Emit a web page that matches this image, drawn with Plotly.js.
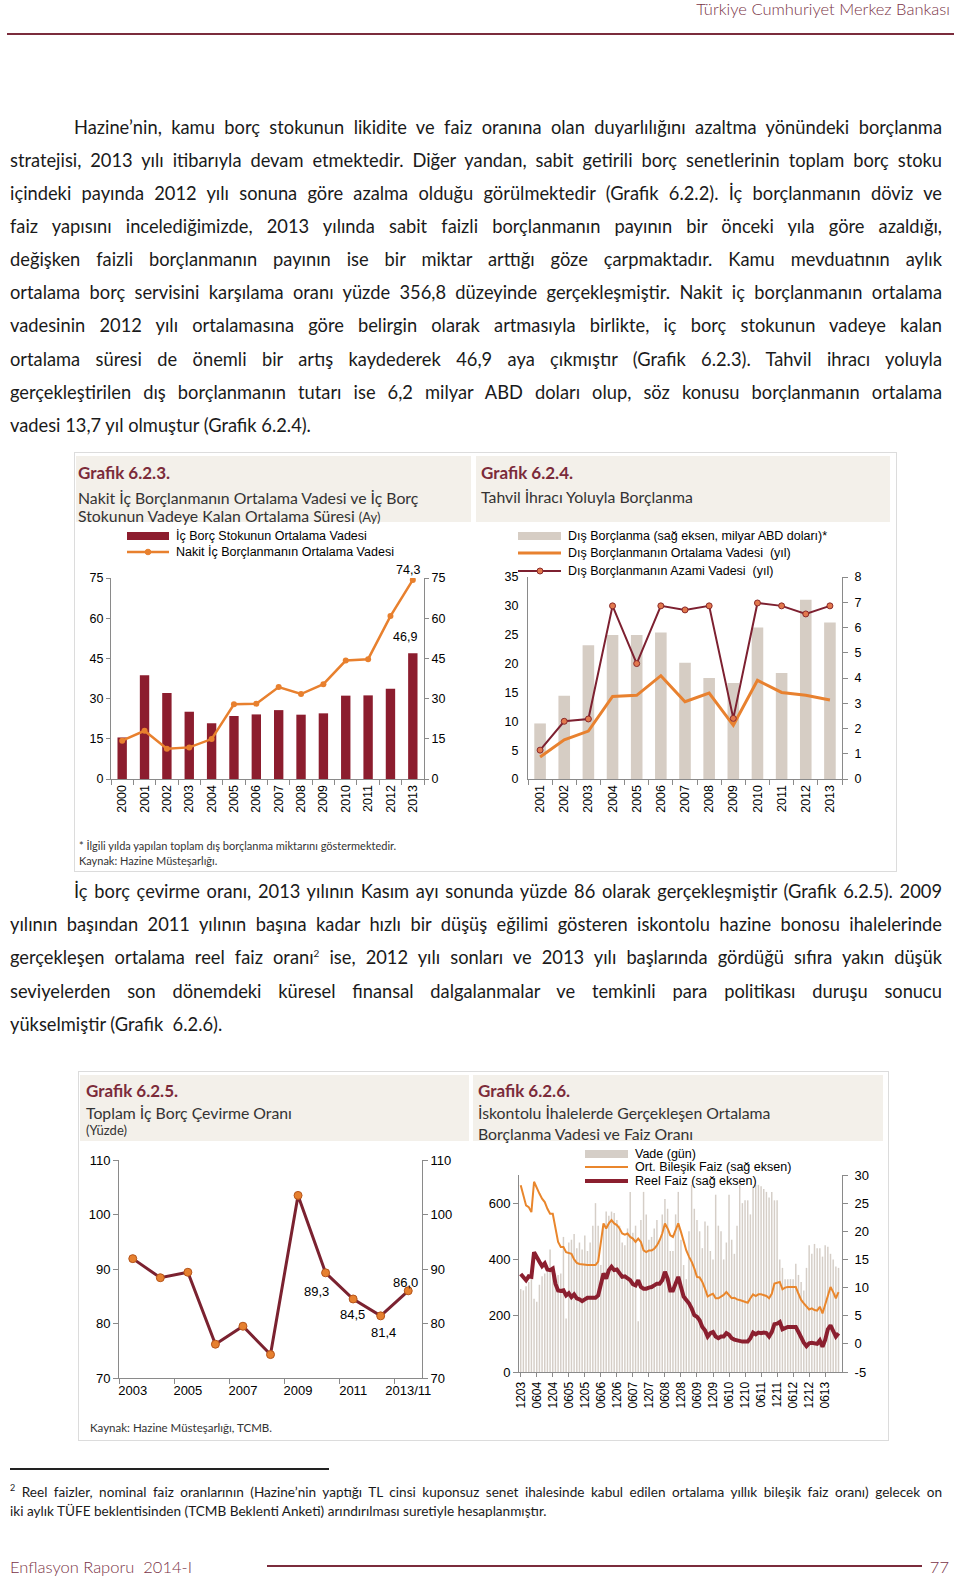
<!DOCTYPE html>
<html><head><meta charset="utf-8">
<script src="https://cdn.plot.ly/plotly-3.0.1.min.js"></script>
<style>
body{margin:0;background:#fff;}
#page{position:relative;width:960px;height:1579px;overflow:hidden;font-family:Lato,'Open Sans',sans-serif;color:#1a1a1a;}
.a{position:absolute;white-space:nowrap;}
.para{position:absolute;left:10px;width:932px;font-size:18.3px;}
.para div{white-space:nowrap;text-align:justify;text-align-last:justify;}
.para div.last{text-align-last:left;}
.para div.ind{padding-left:64px;}
.beige{position:absolute;background:#f3f0ea;}
.gt{position:absolute;font-weight:bold;color:#7b2b3a;font-size:17px;line-height:20px;white-space:nowrap;}
.st{position:absolute;color:#333;font-size:15.8px;line-height:19px;white-space:nowrap;}
.plot{position:absolute;}
</style></head>
<body><div id="page">
<div class="a" style="right:10px;top:1px;line-height:17px;font-size:16.5px;color:#7a3346;font-weight:300;">Türkiye Cumhuriyet Merkez Bankası</div>
<div class="a" style="left:7px;top:33px;width:947px;height:2px;background:#7b2c3c;"></div>

<div class="para" style="top:110.5px;line-height:33.15px;">
<div class="ind">Hazine’nin, kamu borç stokunun likidite ve faiz oranına olan duyarlılığını azaltma yönündeki borçlanma</div>
<div>stratejisi, 2013 yılı itibarıyla devam etmektedir. Diğer yandan, sabit getirili borç senetlerinin toplam borç stoku</div>
<div>içindeki payında 2012 yılı sonuna göre azalma olduğu görülmektedir (Grafik 6.2.2). İç borçlanmanın döviz ve</div>
<div>faiz yapısını incelediğimizde, 2013 yılında sabit faizli borçlanmanın payının bir önceki yıla göre azaldığı,</div>
<div>değişken faizli borçlanmanın payının ise bir miktar arttığı göze çarpmaktadır. Kamu mevduatının aylık</div>
<div>ortalama borç servisini karşılama oranı yüzde 356,8 düzeyinde gerçekleşmiştir. Nakit iç borçlanmanın ortalama</div>
<div>vadesinin 2012 yılı ortalamasına göre belirgin olarak artmasıyla birlikte, iç borç stokunun vadeye kalan</div>
<div>ortalama süresi de önemli bir artış kaydederek 46,9 aya çıkmıştır (Grafik 6.2.3). Tahvil ihracı yoluyla</div>
<div>gerçekleştirilen dış borçlanmanın tutarı ise 6,2 milyar ABD doları olup, söz konusu borçlanmanın ortalama</div>
<div class="last">vadesi 13,7 yıl olmuştur (Grafik 6.2.4).</div>
</div>

<div class="a" style="left:74px;top:452px;width:821px;height:418px;border:1px solid #dcdcdc;"></div>
<div class="beige" style="left:76px;top:456px;width:395px;height:66px;"></div>
<div class="beige" style="left:476px;top:456px;width:414px;height:66px;"></div>
<div class="gt" style="left:78px;top:463px;">Grafik 6.2.3.</div>
<div class="st" style="left:78px;top:487.5px;">Nakit İç Borçlanmanın Ortalama Vadesi ve İç Borç</div>
<div class="st" style="left:78px;top:505.5px;">Stokunun Vadeye Kalan Ortalama Süresi <span style="font-size:13px">(Ay)</span></div>
<div class="gt" style="left:481px;top:463px;">Grafik 6.2.4.</div>
<div class="st" style="left:481px;top:486.5px;">Tahvil İhracı Yoluyla Borçlanma</div>
<div id="chA" class="plot" style="left:75px;top:455px;"></div>
<div id="chB" class="plot" style="left:473px;top:455px;"></div>
<div class="a" style="left:79px;top:839px;font-size:11px;line-height:14px;color:#333;">* İlgili yılda yapılan toplam dış borçlanma miktarını göstermektedir.</div>
<div class="a" style="left:79px;top:854px;font-size:11px;line-height:14px;color:#333;">Kaynak: Hazine Müsteşarlığı.</div>

<div class="para" style="top:874.9px;line-height:33.2px;">
<div class="ind">İç borç çevirme oranı, 2013 yılının Kasım ayı sonunda yüzde 86 olarak gerçekleşmiştir (Grafik 6.2.5). 2009</div>
<div>yılının başından 2011 yılının başına kadar hızlı bir düşüş eğilimi gösteren iskontolu hazine bonosu ihalelerinde</div>
<div>gerçekleşen ortalama reel faiz oranı<sup style="font-size:10px;line-height:0">2</sup> ise, 2012 yılı sonları ve 2013 yılı başlarında gördüğü sıfıra yakın düşük</div>
<div>seviyelerden son dönemdeki küresel finansal dalgalanmalar ve temkinli para politikası duruşu sonucu</div>
<div class="last">yükselmiştir (Grafik&nbsp; 6.2.6).</div>
</div>

<div class="a" style="left:78px;top:1071px;width:809px;height:368px;border:1px solid #dcdcdc;"></div>
<div class="beige" style="left:80px;top:1075px;width:389px;height:66px;"></div>
<div class="beige" style="left:473px;top:1075px;width:410px;height:66px;"></div>
<div class="gt" style="left:86px;top:1081px;">Grafik 6.2.5.</div>
<div class="st" style="left:86px;top:1102.5px;">Toplam İç Borç Çevirme Oranı</div>
<div class="st" style="left:86px;top:1121px;font-size:13px;">(Yüzde)</div>
<div class="gt" style="left:478px;top:1081px;">Grafik 6.2.6.</div>
<div class="st" style="left:478px;top:1102.5px;">İskontolu İhalelerde Gerçekleşen Ortalama</div>
<div class="st" style="left:478px;top:1123.5px;">Borçlanma Vadesi ve Faiz Oranı</div>
<div id="chC" class="plot" style="left:79px;top:1071px;"></div>
<div id="chD" class="plot" style="left:473px;top:1071px;"></div>
<div class="a" style="left:90px;top:1421px;font-size:11.5px;line-height:14px;color:#333;">Kaynak: Hazine Müsteşarlığı, TCMB.</div>

<div class="a" style="left:10px;top:1468px;width:319px;height:1.5px;background:#222;"></div>
<div class="para" style="top:1483.3px;line-height:19.1px;font-size:13.6px;">
<div><sup style="font-size:9px;line-height:0">2</sup> Reel faizler, nominal faiz oranlarının (Hazine’nin yaptığı TL cinsi kuponsuz senet ihalesinde kabul edilen ortalama yıllık bileşik faiz oranı) gelecek on</div>
<div class="last">iki aylık TÜFE beklentisinden (TCMB Beklenti Anketi) arındırılması suretiyle hesaplanmıştır.</div>
</div>

<div class="a" style="left:10px;top:1558px;font-size:16.5px;line-height:18px;color:#7a3346;font-weight:300;">Enflasyon Raporu&nbsp; 2014-I</div>
<div class="a" style="left:267px;top:1565px;width:655px;height:1.5px;background:#7b2c3c;"></div>
<div class="a" style="right:11px;top:1558px;font-size:16.5px;line-height:18px;color:#7a3346;font-weight:300;">77</div>
</div>

<script>
// ---------- DATA ----------
// Grafik 6.2.3
const yearsA = ['2000','2001','2002','2003','2004','2005','2006','2007','2008','2009','2010','2011','2012','2013'];
const icBorcStokVade = [15.5,38.7,32.1,25.1,20.8,23.5,24.1,25.7,24.0,24.5,31.1,31.2,33.7,46.9];
const nakitBorcVade = [14.3,18.0,11.3,11.8,14.9,27.9,28.1,34.3,31.7,35.4,44.2,44.7,60.8,74.3];

// Grafik 6.2.4
const yearsB = ['2001','2002','2003','2004','2005','2006','2007','2008','2009','2010','2011','2012','2013'];
const disBorclanma = [2.2,3.3,5.3,5.7,5.7,5.8,4.6,4.0,3.8,6.0,4.2,7.1,6.2];
const disOrtVade = [3.8,6.8,8.3,14.3,14.5,17.9,13.4,14.9,9.3,17.1,15.0,14.5,13.7];
const disAzamiVade = [5,10,10.4,30,20,30,29.3,30,10.5,30.5,30,28.6,30];

// Grafik 6.2.5
const yearsC = ['2003','2004','2005','2006','2007','2008','2009','2010','2011','2012','2013/11'];
const cevirmeOrani = [91.9,88.4,89.4,76.2,79.5,74.3,103.5,89.3,84.5,81.4,86.0];
const tickLabelsC = ['2003','2005','2007','2009','2011','2013/11'];

// Grafik 6.2.6 (monthly, 12/2003 - 11/2013)
const tickLabelsD = ['1203','0604','1204','0605','1205','0606','1206','0607','1207','0608','1208','0609','1209','0610','1210','0611','1211','0612','1212','0613'];
const rightTicksD = [-5,0,5,10,15,20,25,30];
const vadeGun = [295,290,305,320,330,260,250,310,340,350,
 365,435,360,350,345,350,480,190,460,470,
 490,440,460,435,485,430,460,520,600,520,
 380,520,570,555,570,565,540,520,460,450,
 510,640,495,520,180,540,640,560,470,480,
 510,540,470,560,615,580,430,430,560,640,
 470,380,330,500,665,580,540,500,440,535,
 520,430,400,630,520,500,400,460,630,470,
 420,520,665,600,610,610,560,660,665,665,
 660,650,640,620,640,610,610,400,370,330,
 330,330,330,385,345,320,290,370,450,420,
 455,440,440,410,450,445,420,400,375,370];
const ortBilesikFaiz = [28.2,26.4,24.6,24.3,23.4,28.8,27.6,26.7,25.8,25.2,
 24.0,23.1,23.1,20.5,18.1,17.2,17.2,16.3,16.1,16.0,
 15.0,14.4,14.2,14.1,14.1,14.0,14.0,14.0,14.0,14.6,
 18.4,21.4,20.5,21.4,22.0,21.4,21.1,20.5,19.6,19.4,
 19.6,19.0,18.7,18.1,18.7,18.1,16.6,16.3,16.6,16.6,
 16.9,17.5,18.4,19.6,21.4,20.5,19.3,19.0,20.2,21.4,
 19.9,18.1,16.6,15.5,14.6,13.4,11.9,11.8,11.0,9.8,
 8.4,8.7,8.9,8.1,8.1,8.4,8.7,9.2,8.7,8.1,
 8.2,7.9,7.8,7.6,7.5,7.3,8.1,8.8,8.5,8.8,
 8.8,8.7,8.5,8.1,8.9,10.7,10.8,11.0,9.7,10.0,
 10.1,10.1,10.1,10.1,8.9,7.8,7.2,6.6,6.1,6.3,
 6.0,5.9,6.6,5.4,6.9,8.7,10.1,9.2,8.1,9.2];
const reelFaiz = [12.4,11.8,11.3,12.0,11.9,16.3,15.3,14.6,13.8,14.3,
 13.2,13.1,13.4,10.7,9.5,9.4,9.5,8.6,9.0,8.3,
 8.8,8.1,7.9,7.6,7.9,8.2,8.2,8.2,8.2,8.6,
 11.0,12.5,11.6,13.1,13.7,13.1,13.2,12.5,11.9,12.0,
 11.7,11.3,10.6,10.4,11.3,10.1,9.8,9.8,10.0,10.1,
 10.4,10.7,10.7,11.3,12.8,11.6,9.5,9.5,10.7,11.9,
 10.1,8.4,7.8,7.2,6.3,5.1,4.8,4.2,3.0,2.4,
 1.3,1.9,2.1,1.3,1.0,1.3,1.3,1.9,1.6,1.0,
 0.75,0.6,0.4,0.4,0.4,0.4,1.0,2.0,1.7,2.0,
 1.9,2.0,1.9,1.3,2.1,3.5,3.6,3.9,2.6,2.9,
 3.0,3.0,3.0,3.0,2.1,1.0,0.2,-0.4,0.1,0.2,
 0.1,0.0,0.6,-0.5,0.7,2.6,3.3,2.3,1.3,1.9];

// ---------- HELPERS ----------
const FONT = "'Liberation Sans', Arial, sans-serif";
const AX = '#8a8a8a';
const fmt = v => v.toFixed(1).replace('.', ',');
function conv(c){
  const pw = c.W - c.m.l - c.m.r, ph = c.H - c.m.t - c.m.b;
  return {x: X => (X - c.left - c.m.l)/pw, y: Y => 1 - (Y - c.top - c.m.t)/ph};
}
function legRect(cv, x0, x1, y0, y1, color){
  return {type:'rect', xref:'paper', yref:'paper', x0:cv.x(x0), x1:cv.x(x1), y0:cv.y(y1), y1:cv.y(y0), fillcolor:color, line:{width:0}};
}
function legLine(cv, x0, x1, y, color, w){
  return {type:'line', xref:'paper', yref:'paper', x0:cv.x(x0), x1:cv.x(x1), y0:cv.y(y), y1:cv.y(y), line:{color:color, width:w}};
}
function legDot(cv, cx, cy, r, fill, lc){
  return {type:'circle', xref:'paper', yref:'paper', x0:cv.x(cx-r), x1:cv.x(cx+r), y0:cv.y(cy+r), y1:cv.y(cy-r), fillcolor:fill, line:{color:lc, width:1}};
}
function legText(cv, x, y, t, size){
  return {xref:'paper', yref:'paper', x:cv.x(x), y:cv.y(y), xanchor:'left', yanchor:'middle', text:t, showarrow:false, font:{family:FONT, size:size||12.5, color:'#000'}};
}
function baseAxis(extra){
  return Object.assign({showgrid:false, zeroline:false, showline:true, linecolor:AX, linewidth:1, ticks:'outside', tickcolor:AX, ticklen:4, tickfont:{family:FONT, size:12.5, color:'#000'}, fixedrange:true}, extra);
}
const cfg = {staticPlot:true, displayModeBar:false};

// ---------- CHART A : 6.2.3 ----------
(function(){
  const c = {left:75, top:455, W:398, H:416, m:{l:36, r:49, t:123, b:92}};
  const cv = conv(c);
  const traces = [
    {type:'bar', x:yearsA, y:icBorcStokVade, marker:{color:'#8c1d2e'}, yaxis:'y', hoverinfo:'skip'},
    {type:'scatter', mode:'lines+markers', x:yearsA, y:nakitBorcVade, yaxis:'y2', line:{color:'#e8802e', width:2.5}, marker:{color:'#e8802e', size:6}, hoverinfo:'skip'}
  ];
  const n = yearsA.length - 1;
  const layout = {
    width:c.W, height:c.H, margin:Object.assign({autoexpand:false}, c.m),
    paper_bgcolor:'rgba(0,0,0,0)', plot_bgcolor:'rgba(0,0,0,0)', showlegend:false, bargap:0.58,
    font:{family:FONT, size:12.5, color:'#000'},
    xaxis: baseAxis({type:'category', range:[-0.5, n+0.5], autorange:false, tickson:'boundaries', tickangle:-90, ticklen:5}),
    yaxis: baseAxis({range:[0,75], dtick:15, side:'left'}),
    yaxis2: baseAxis({range:[0,75], dtick:15, side:'right', overlaying:'y'}),
    shapes:[
      legRect(cv,127,169,532,540,'#8c1d2e'),
      legLine(cv,127,169,552,'#e8802e',2.5),
      legDot(cv,148,552,2.8,'#e8802e','#e8802e')
    ],
    annotations:[
      legText(cv,174,536,'İç Borç Stokunun Ortalama Vadesi'),
      legText(cv,174,552,'Nakit İç Borçlanmanın Ortalama Vadesi'),
      {x:n, y:nakitBorcVade[n], xref:'x', yref:'y2', text:fmt(nakitBorcVade[n]), showarrow:false, yshift:10, xshift:-5, font:{family:FONT, size:12.5, color:'#000'}},
      {x:n, y:icBorcStokVade[n], xref:'x', yref:'y', text:fmt(icBorcStokVade[n]), showarrow:false, yshift:16, xshift:-8, font:{family:FONT, size:12.5, color:'#000'}}
    ]
  };
  Plotly.newPlot('chA', traces, layout, cfg);
})();

// ---------- CHART B : 6.2.4 ----------
(function(){
  const c = {left:473, top:455, W:423, H:416, m:{l:55, r:54, t:122, b:92}};
  const cv = conv(c);
  const traces = [
    {type:'bar', x:yearsB, y:disBorclanma, yaxis:'y', marker:{color:'#d6cdc4'}, hoverinfo:'skip'},
    {type:'scatter', mode:'lines', x:yearsB, y:disOrtVade, yaxis:'y2', line:{color:'#e8812f', width:3}, hoverinfo:'skip'},
    {type:'scatter', mode:'lines+markers', x:yearsB, y:disAzamiVade, yaxis:'y2', line:{color:'#7d2030', width:2}, marker:{color:'#e2784d', size:6, line:{color:'#8b2a2a', width:1}}, hoverinfo:'skip'}
  ];
  const layout = {
    width:c.W, height:c.H, margin:Object.assign({autoexpand:false}, c.m),
    paper_bgcolor:'rgba(0,0,0,0)', plot_bgcolor:'rgba(0,0,0,0)', showlegend:false, bargap:0.52,
    font:{family:FONT, size:12.5, color:'#000'},
    xaxis: baseAxis({type:'category', range:[-0.5, yearsB.length-0.5], autorange:false, tickson:'boundaries', tickangle:-90, ticklen:5}),
    yaxis: baseAxis({range:[0,8], dtick:1, side:'right', ticklen:5, ticklabelstandoff:4}),
    yaxis2: baseAxis({range:[0,35], dtick:5, side:'left', overlaying:'y', ticks:'', ticklabelstandoff:6}),
    shapes:[
      legRect(cv,518,561,532,540,'#d6cdc4'),
      legLine(cv,518,561,553,'#e8812f',3),
      legLine(cv,518,561,571,'#7d2030',2),
      legDot(cv,540,571,3,'#e2784d','#8b2a2a')
    ],
    annotations:[
      legText(cv,566,536,'Dış Borçlanma (sağ eksen, milyar ABD doları)*'),
      legText(cv,566,553,'Dış Borçlanmanın Ortalama Vadesi\u00a0 (yıl)'),
      legText(cv,566,571,'Dış Borçlanmanın Azami Vadesi\u00a0 (yıl)')
    ]
  };
  Plotly.newPlot('chB', traces, layout, cfg);
})();

// ---------- CHART C : 6.2.5 ----------
(function(){
  const c = {left:79, top:1071, W:394, H:369, m:{l:40, r:51, t:89, b:62}};
  const idx = yearsC.map((_, i) => i);
  const labelIdx = tickLabelsC.map(l => yearsC.indexOf(l));
  const traces = [
    {type:'scatter', mode:'lines+markers', x:idx, y:cevirmeOrani, yaxis:'y', line:{color:'#7b2230', width:3}, marker:{color:'#e6802f', size:8, line:{color:'#b5541a', width:1}}, hoverinfo:'skip'},
    {type:'scatter', mode:'lines', x:idx, y:cevirmeOrani, yaxis:'y2', opacity:0, line:{width:0.1}, hoverinfo:'skip'}
  ];
  const lbl = (i, xs, ys) => ({x:i, y:cevirmeOrani[i], xref:'x', yref:'y', text:fmt(cevirmeOrani[i]), showarrow:false, xshift:xs, yshift:ys, font:{family:FONT, size:13, color:'#000'}});
  const layout = {
    width:c.W, height:c.H, margin:Object.assign({autoexpand:false}, c.m),
    paper_bgcolor:'rgba(0,0,0,0)', plot_bgcolor:'rgba(0,0,0,0)', showlegend:false,
    font:{family:FONT, size:13, color:'#000'},
    xaxis: baseAxis({range:[-0.5, yearsC.length-0.5], tickmode:'array', tickvals:labelIdx, ticktext:tickLabelsC, ticks:'', tickfont:{family:FONT, size:13, color:'#000'},
      minor:{tickmode:'array', tickvals:labelIdx.map(v => v-0.5), ticks:'outside', ticklen:5, tickcolor:AX, showgrid:false}}),
    yaxis: baseAxis({range:[70,110], dtick:10, side:'left', ticklen:5, tickfont:{family:FONT, size:13, color:'#000'}}),
    yaxis2: baseAxis({range:[70,110], dtick:10, side:'right', overlaying:'y', ticklen:5, tickfont:{family:FONT, size:13, color:'#000'}}),
    annotations:[ lbl(7,-9,-19), lbl(8,-1,-16), lbl(9,3,-17), lbl(10,-3,8) ]
  };
  Plotly.newPlot('chC', traces, layout, cfg);
})();

// ---------- CHART D : 6.2.6 ----------
(function(){
  const c = {left:473, top:1071, W:415, H:369, m:{l:46, r:46, t:104, b:68}};
  const cv = conv(c);
  const idx = vadeGun.map((_, i) => i);
  const traces = [
    {type:'bar', x:idx, y:vadeGun, yaxis:'y', marker:{color:'#d5cec7'}, hoverinfo:'skip'},
    {type:'scatter', mode:'lines', x:idx, y:ortBilesikFaiz, yaxis:'y2', line:{color:'#e9862c', width:2}, hoverinfo:'skip'},
    {type:'scatter', mode:'lines', x:idx, y:reelFaiz, yaxis:'y2', line:{color:'#8b1f2f', width:4}, hoverinfo:'skip'}
  ];
  const layout = {
    width:c.W, height:c.H, margin:Object.assign({autoexpand:false}, c.m),
    paper_bgcolor:'rgba(0,0,0,0)', plot_bgcolor:'rgba(0,0,0,0)', showlegend:false, bargap:0.45,
    font:{family:FONT, size:12.5, color:'#000'},
    xaxis: baseAxis({range:[-0.64, 120.3], tickmode:'array', tickvals:tickLabelsD.map((_, k) => 6*k), ticktext:tickLabelsD, tickangle:-90, ticklen:4, tickfont:{family:FONT, size:12, color:'#000'}}),
    yaxis: baseAxis({range:[0,700], tickmode:'array', tickvals:[0,200,400,600], side:'left', ticklen:5, tickfont:{family:FONT, size:13, color:'#000'}}),
    yaxis2: baseAxis({range:[-5,30], tickmode:'array', tickvals:rightTicksD, ticktext:rightTicksD.map(v => String(v)), side:'right', overlaying:'y', ticklen:5, ticklabelstandoff:4, tickfont:{family:FONT, size:13, color:'#000'}}),
    shapes:[
      legRect(cv,585,628,1150,1158,'#d5cec7'),
      legLine(cv,585,628,1167,'#e9862c',2),
      legLine(cv,585,628,1181,'#8b1f2f',4)
    ],
    annotations:[
      legText(cv,633,1154,'Vade (gün)'),
      legText(cv,633,1167,'Ort. Bileşik Faiz (sağ eksen)'),
      legText(cv,633,1181,'Reel Faiz (sağ eksen)')
    ]
  };
  Plotly.newPlot('chD', traces, layout, cfg);
})();
</script>
</body></html>
